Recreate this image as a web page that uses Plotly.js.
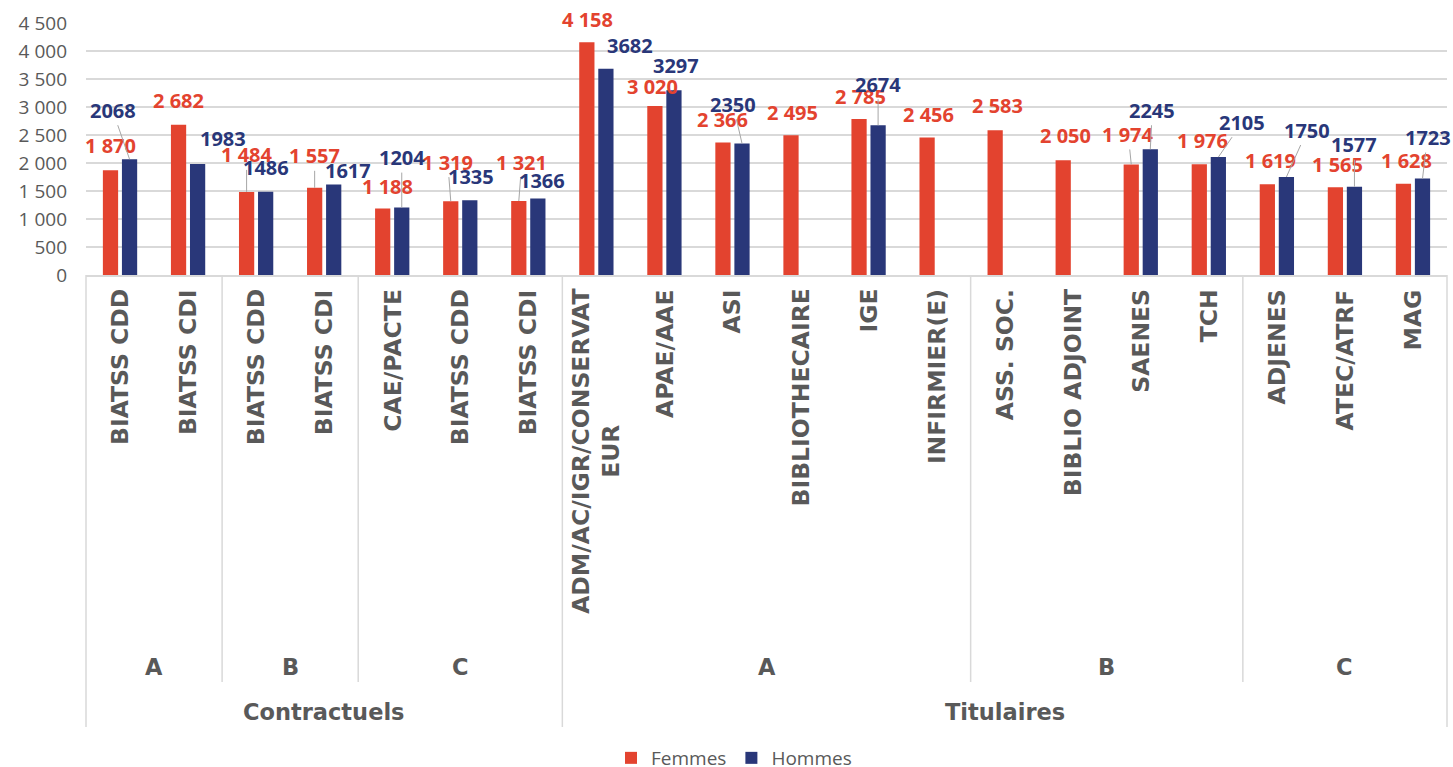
<!DOCTYPE html>
<html>
<head>
<meta charset="utf-8">
<script src="https://cdn.plot.ly/plotly-3.0.1.min.js"></script>
<style>
html,body{margin:0;padding:0;background:#ffffff;}
#chart{width:1453px;height:767px;}
</style>
</head>
<body>
<div id="chart"></div>
<script>
// ---------------- DATA ----------------
const jobs = ["BIATSS CDD","BIATSS CDI","BIATSS CDD","BIATSS CDI","CAE/PACTE","BIATSS CDD","BIATSS CDI",
  "ADM/AC/IGR/CONSERVATEUR","APAE/AAE","ASI","BIBLIOTHECAIRE","IGE","INFIRMIER(E)",
  "ASS. SOC.","BIBLIO ADJOINT","SAENES","TCH","ADJENES","ATEC/ATRF","MAG"];
const grades = ["A","A","B","B","C","C","C","A","A","A","A","A","A","B","B","B","B","C","C","C"];
const statuts = ["Contractuels","Contractuels","Contractuels","Contractuels","Contractuels","Contractuels","Contractuels",
  "Titulaires","Titulaires","Titulaires","Titulaires","Titulaires","Titulaires","Titulaires","Titulaires",
  "Titulaires","Titulaires","Titulaires","Titulaires","Titulaires"];
const femmes = [1870,2682,1484,1557,1188,1319,1321,4158,3020,2366,2495,2785,2456,2583,2050,1974,1976,1619,1565,1628];
const hommes = [2068,1983,1486,1617,1204,1335,1366,3682,3297,2350,null,2674,null,null,null,2245,2105,1750,1577,1723];
const seriesNames = ["Femmes","Hommes"];

// ---------------- STYLE ----------------
const RED = "#E3432F", BLUE = "#293779";
const GREY_TXT = "#595959", GRID = "#d9d9d9";
const BARGAP = 0.44, BARGROUPGAP = 0.2;
const M = {l:86, r:6, t:23, b:492, autoexpand:false};
const H = 767, W = 1453;
const plotH = H - M.t - M.b;
// data-label placement (pixel offsets from bar top, leader line flag)
const femLabelPos = [[0,-25,0],[0,-24,0],[0,-37,1],[0,-32,1],[5,-22,0],[-3,-39,1],[3,-39,1],[1,-23,0],[-2,-19,0],[0,-23,0],
  [1,-23,0],[1,-23,0],[1,-23,0],[2,-25,0],[2,-25,0],[-3,-30,1],[3,-24,0],[3,-24,0],[2,-23,0],[3,-23,0]];
const homLabelPos = [[-17,-49,1],[25,-25,0],[0,-24,0],[14,-14,0],[0,-50,1],[1,-24,0],[4,-18,0],[24,-23,0],[2,-25,0],[-9,-39,1],
  null,[0,-41,1],null,null,null,[2,-39,1],[24,-35,1],[21,-47,1],[0,-42,1],[5,-41,1]];

const idx = jobs.map((_, i) => i);
const xRange = [-0.5, jobs.length - 0.5];

function fmtSpace(v){ return String(v).replace(/\B(?=(\d{3})+(?!\d))/g, " "); }
function wrap(s, n){ return s.length > n ? s.slice(0, n) + "<br>" + s.slice(n) : s; }

const traces = [
  {type:"bar", name:seriesNames[0], x:idx, y:femmes, marker:{color:RED}, hoverinfo:"none"},
  {type:"bar", name:seriesNames[1], x:idx, y:hommes, marker:{color:BLUE}, hoverinfo:"none"}
];

const annotations = [];
const slotHalf = (1 - BARGAP) / 4;
function addLabels(vals, pos, sign, color, fmt){
  vals.forEach((v, i) => {
    if (v === null || v === undefined || !pos[i]) return;
    const p = pos[i];
    annotations.push({
      x: i + sign * slotHalf, y: v, xref:"x", yref:"y",
      text: fmt(v), showarrow:true, arrowhead:0, arrowwidth:1, standoff:0,
      arrowcolor: p[2] ? "#a6a6a6" : "rgba(0,0,0,0)",
      ax: p[0], ay: p[1],
      font:{family:"Open Sans", size:20, color:color, weight:700}
    });
  });
}
addLabels(femmes, femLabelPos, -1, RED, fmtSpace);
addLabels(hommes, homLabelPos, +1, BLUE, v => String(v));

// job labels (rotated)
jobs.forEach((j, i) => {
  annotations.push({
    x: i, xref:"x", y: 0, yref:"paper", yanchor:"top", yshift:-12,
    text: wrap(j, 20), textangle:-90, showarrow:false, align:"center",
    font:{family:"DejaVu Sans", size:23.5, color:GREY_TXT, weight:700}
  });
});

// runs helper
function runs(keys){
  const out = [];
  keys.forEach((k, i) => {
    if (!out.length || out[out.length-1].key !== k) out.push({key:k, start:i, end:i});
    else out[out.length-1].end = i;
  });
  return out;
}
const gradeKeys = grades.map((g, i) => statuts[i] + "|" + g);
const gradeRuns = runs(gradeKeys);
const statutRuns = runs(statuts);

gradeRuns.forEach(r => {
  annotations.push({
    x:(r.start + r.end)/2, xref:"x", y:0, yref:"paper", yanchor:"middle", yshift:-392,
    text:r.key.split("|")[1], showarrow:false,
    font:{family:"DejaVu Sans", size:22.5, color:GREY_TXT, weight:700}
  });
});
statutRuns.forEach(r => {
  annotations.push({
    x:(r.start + r.end)/2, xref:"x", y:0, yref:"paper", yanchor:"middle", yshift:-437,
    text:r.key, showarrow:false,
    font:{family:"DejaVu Sans", size:22.5, color:GREY_TXT, weight:700}
  });
});

// separator lines
const shapes = [];
const toPaperX = b => (b - xRange[0]) / (xRange[1] - xRange[0]);
const statutBounds = new Set();
statutRuns.forEach(r => { statutBounds.add(r.start - 0.5); statutBounds.add(r.end + 0.5); });
const gradeBounds = new Set();
gradeRuns.forEach(r => { gradeBounds.add(r.start - 0.5); gradeBounds.add(r.end + 0.5); });
gradeBounds.forEach(b => {
  if (statutBounds.has(b)) return;
  shapes.push({type:"line", xref:"paper", yref:"paper", x0:toPaperX(b), x1:toPaperX(b), y0:0, y1:-407/plotH,
    line:{color:GRID, width:1.5}});
});
statutBounds.forEach(b => {
  shapes.push({type:"line", xref:"paper", yref:"paper", x0:toPaperX(b), x1:toPaperX(b), y0:0, y1:-452/plotH,
    line:{color:GRID, width:1.5}});
});

const layout = {
  width:W, height:H, margin:M,
  paper_bgcolor:"#ffffff", plot_bgcolor:"#ffffff",
  barmode:"group", bargap:BARGAP, bargroupgap:BARGROUPGAP,
  separators:", ",
  font:{family:"Open Sans", color:GREY_TXT},
  xaxis:{type:"linear", range:xRange, showticklabels:false, ticks:"", showgrid:false, zeroline:false,
    showline:true, linecolor:GRID, linewidth:2, fixedrange:true},
  yaxis:{range:[0,4500], tick0:0, dtick:500, tickformat:",d", separatethousands:true,
    showgrid:true, gridcolor:GRID, gridwidth:1.5, zeroline:false, showline:false, ticks:"",
    tickfont:{family:"Open Sans", size:19, color:GREY_TXT}, ticklabelstandoff:18, fixedrange:true},
  showlegend:true,
  legend:{orientation:"h", x:(611 - M.l)/(W - M.l - M.r), xanchor:"left", y:-(739-275)/plotH, yanchor:"top",
    font:{family:"Open Sans", size:19, color:GREY_TXT}, bgcolor:"rgba(0,0,0,0)"},
  annotations:annotations,
  shapes:shapes
};

Plotly.newPlot("chart", traces, layout, {displayModeBar:false, staticPlot:true});
</script>
</body>
</html>
